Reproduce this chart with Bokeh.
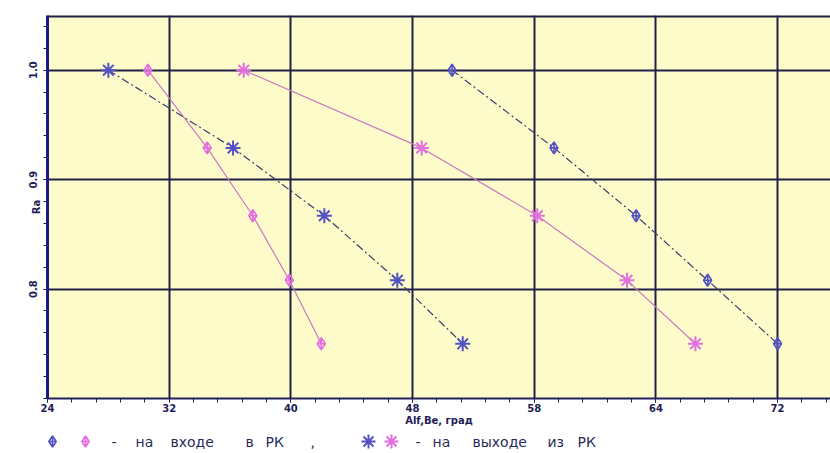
import numpy as np
from bokeh.plotting import figure
from bokeh.models import FixedTicker, Range1d, Span
from bokeh.layouts import column
from bokeh.embed import file_html
from bokeh.resources import INLINE
from bokeh.core.properties import value

# ---- data ----
ra = [1.0, 0.929, 0.867, 0.808, 0.75]
in_blue = [50.6, 57.3, 62.7, 67.4, 72.0]
in_pink = [30.6, 34.5, 37.5, 39.9, 42.0]
out_blue = [28.0, 36.2, 42.2, 47.0, 51.3]
out_pink = [36.9, 48.6, 56.2, 62.1, 66.6]

x_ticks = [24, 32, 40, 48, 56, 64, 72]
x_tick_labels = ["24", "32", "40", "48", "58", "64", "72"]
y_ticks = [0.8, 0.9, 1.0]
y_tick_labels = ["0.8", "0.9", "1.0"]

x_title = "Alf,Be, град"
y_title = "Ra"
legend_words = ["-", "на", "входе", "в", "РК", ",", "-", "на", "выходе", "из", "РК"]

# ---- style ----
BLUE = "#5252c4"
PINK = "#e26ee0"
NAVY = "#1e1e55"
FONT = "DejaVu Sans"
W = 830

p = figure(width=W, height=428,
           x_range=Range1d(24, 75.48), y_range=Range1d(0.70, 1.05),
           output_backend="svg", toolbar_location=None,
           min_border_left=47, min_border_right=0, min_border_top=15,
           min_border_bottom=27,
           background_fill_color="#fdfbc9", border_fill_color="white")
p.outline_line_color = None
p.frame_align = False

p.xaxis.ticker = FixedTicker(ticks=x_ticks, minor_ticks=list(np.arange(24, 76, 1.6)))
p.yaxis.ticker = FixedTicker(ticks=y_ticks, minor_ticks=list(np.arange(0.70, 1.05, 0.02)))
p.xaxis.major_label_overrides = {t: l for t, l in zip(x_ticks, x_tick_labels)}
p.yaxis.major_label_overrides = {t: l for t, l in zip(y_ticks, y_tick_labels)}

for ax in (p.xaxis[0], p.yaxis[0]):
    ax.major_tick_in = 0
    ax.minor_tick_in = 0
    ax.major_tick_out = 4
    ax.minor_tick_out = 4
    ax.major_tick_line_color = NAVY
    ax.minor_tick_line_color = NAVY
    ax.major_label_text_font = FONT
    ax.major_label_text_font_size = "10px"
    ax.major_label_text_font_style = "bold"
    ax.major_label_text_color = NAVY
    ax.axis_label_text_font = FONT
    ax.axis_label_text_font_size = "10px"
    ax.axis_label_text_font_style = "bold"
    ax.axis_label_text_color = NAVY

p.xaxis.axis_line_color = "#22225e"
p.xaxis.axis_line_width = 2
p.xaxis.major_label_standoff = 1
p.xaxis.axis_label = x_title
p.xaxis.axis_label_standoff = 0

p.yaxis.axis_line_color = "#18188a"
p.yaxis.axis_line_width = 3
p.yaxis.major_label_orientation = "vertical"
p.yaxis.major_label_standoff = 6
p.yaxis.axis_label = y_title
p.yaxis.axis_label_standoff = -15

p.grid.grid_line_color = "#20204a"
p.grid.grid_line_width = 2
p.grid.grid_line_alpha = 1.0

p.add_layout(Span(location=p.y_range.end, dimension="width",
                  line_color="#20204a", line_width=4))

# lines
p.line(in_blue, ra, line_color="#3c3c70", line_width=1.2, line_dash="8 3 2 3")
p.line(out_blue, ra, line_color="#3c3c70", line_width=1.2, line_dash="8 3 2 3")
p.line(in_pink, ra, line_color="#c87ac0", line_width=1.2)
p.line(out_pink, ra, line_color="#c87ac0", line_width=1.2)

# markers
p.scatter(in_blue, ra, marker="diamond_cross", size=12, line_color=BLUE,
          fill_color=None, line_width=1.6)
p.scatter(in_pink, ra, marker="diamond_cross", size=12, line_color=PINK,
          fill_color=None, line_width=1.6)
p.scatter(out_blue, ra, marker="asterisk", size=15, line_color=BLUE, line_width=2)
p.scatter(out_pink, ra, marker="asterisk", size=15, line_color=PINK, line_width=2)

# ---- legend row (separate strip, pixel coordinates) ----
LH = 22
lg = figure(width=W, height=LH, x_range=Range1d(0, W), y_range=Range1d(0, LH),
            output_backend="svg", toolbar_location=None,
            min_border=0, min_border_left=0, min_border_right=0,
            min_border_top=0, min_border_bottom=0,
            background_fill_color="white", border_fill_color="white")
lg.outline_line_color = None
lg.frame_align = False
lg.axis.visible = False
lg.grid.visible = False

ly = 9
lg.scatter([52], [ly], marker="diamond_cross", size=11, line_color=BLUE, fill_color=None, line_width=1.6)
lg.scatter([85], [ly], marker="diamond_cross", size=11, line_color=PINK, fill_color=None, line_width=1.6)
lg.scatter([368], [ly], marker="asterisk", size=14, line_color=BLUE, line_width=2)
lg.scatter([391], [ly], marker="asterisk", size=14, line_color=PINK, line_width=2)
word_x = [111, 135, 170, 245, 265, 310, 415, 432, 472, 547, 577]
lg.text(word_x, [ly] * len(word_x), text=legend_words,
        text_font=value(FONT), text_font_size="14px", text_color="#2a2a5a",
        text_align="left", text_baseline="middle")

layout = column(p, lg, spacing=0)
open("out.html", "w").write(file_html(layout, INLINE))
